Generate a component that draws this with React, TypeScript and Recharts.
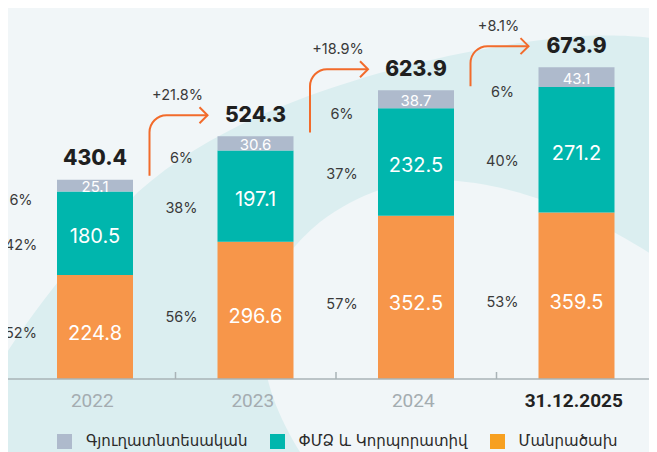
import React from 'react';
import { BarChart, Bar, XAxis, YAxis, LabelList } from 'recharts';

const years = ['2022', '2023', '2024', '31.12.2025'];
const retail = [224.8, 296.6, 352.5, 359.5];
const corp = [180.5, 197.1, 232.5, 271.2];
const agri = [25.1, 30.6, 38.7, 43.1];
const totals = [430.4, 524.3, 623.9, 673.9];
const retailPct = ['52%', '56%', '57%', '53%'];
const corpPct = ['42%', '38%', '37%', '40%'];
const agriPct = ['6%', '6%', '6%', '6%'];
const growth = ['', '+21.8%', '+18.9%', '+8.1%'];

const seriesNames = {
  agri: 'Գյուղատնտեսական',
  corp: 'ՓՄՁ և Կորպորատիվ',
  retail: 'Մանրածախ',
};
const legendOrder = ['agri', 'corp', 'retail'];

const data = years.map((y, i) => ({
  year: y,
  retail: retail[i],
  corp: corp[i],
  agri: agri[i],
}));

const COLORS = {
  agri: '#aebacc',
  corp: '#00b6ad',
  retail: '#f7964a',
};
const LEGEND_COLORS = {
  agri: '#aebacc',
  corp: '#00b6ad',
  retail: '#f7a021',
};

const FONT = 'Inter, "Open Sans", sans-serif';
const ARROW = '#f26b2b';

function box(p: any) {
  const vb = p.viewBox || {};
  return {
    x: Number(p.x ?? vb.x),
    y: Number(p.y ?? vb.y),
    w: Number(p.width ?? vb.width),
    h: Number(p.height ?? vb.height),
  };
}

function makeSegmentLabel(pcts: string[], valueSize: number, valueDy: number, pctDy: number) {
  return (p: any) => {
    const { x, y, w, h } = box(p);
    const i = p.index;
    const v = Number(p.value);
    return (
      <g>
        <text
          x={x + w / 2}
          y={y + h / 2 + valueDy}
          textAnchor="middle"
          dominantBaseline="central"
          fill="#ffffff"
          fontSize={valueSize}
          fontFamily={FONT}
        >
          {v.toFixed(1)}
        </text>
        <text
          x={x - 36}
          y={y + h / 2 + pctDy}
          textAnchor="middle"
          dominantBaseline="central"
          fill="#3a3a3a"
          fontSize={14.5}
          fontFamily={FONT}
        >
          {pcts[i]}
        </text>
      </g>
    );
  };
}

const retailLabel = makeSegmentLabel(retailPct, 20, 6, 6);
const corpLabel = makeSegmentLabel(corpPct, 20, 3, 11);

const agriLabel = (p: any) => {
  const { x, y, w, h } = box(p);
  const i = p.index;
  const v = Number(p.value);
  const pxPerUnit = h / agri[i];
  let arrow = null;
  if (i > 0) {
    const prevTop = y + (totals[i] - totals[i - 1]) * pxPerUnit;
    const vx = x - 68;
    const y0 = prevTop - 4;
    const hy = y - 21;
    const ex = x - 10;
    const r = 17;
    const d = `M ${vx} ${y0} L ${vx} ${hy + r} C ${vx} ${hy + r * 0.45} ${vx + r * 0.45} ${hy} ${vx + r} ${hy} L ${ex} ${hy}`;
    const head = `M ${ex - 8} ${hy - 8} L ${ex} ${hy} L ${ex - 8} ${hy + 8}`;
    arrow = (
      <g>
        <path d={d} fill="none" stroke={ARROW} strokeWidth={2} />
        <path d={head} fill="none" stroke={ARROW} strokeWidth={2} />
        <text
          x={(vx + ex) / 2 - 1}
          y={hy - 21}
          textAnchor="middle"
          dominantBaseline="central"
          fill="#3a3a3a"
          fontSize={14.5}
          fontFamily={FONT}
        >
          {growth[i]}
        </text>
      </g>
    );
  }
  return (
    <g>
      <text
        x={x + w / 2}
        y={y + h / 2 + 1}
        textAnchor="middle"
        dominantBaseline="central"
        fill="#ffffff"
        fontSize={15}
        fontFamily={FONT}
      >
        {v.toFixed(1)}
      </text>
      <text
        x={x - 36}
        y={y + h / 2 + 14}
        textAnchor="middle"
        dominantBaseline="central"
        fill="#3a3a3a"
        fontSize={14.5}
        fontFamily={FONT}
      >
        {agriPct[i]}
      </text>
      <text
        x={x + w / 2}
        y={y - 22}
        textAnchor="middle"
        dominantBaseline="central"
        fill="#1f1f1f"
        fontSize={21}
        fontWeight={800}
        fontFamily={FONT}
      >
        {totals[i].toFixed(1)}
      </text>
      {arrow}
    </g>
  );
};

const AxisTick = (p: any) => {
  const { x, y, payload, index } = p;
  const last = index === years.length - 1;
  const half = payload && typeof payload.offset === 'number' && payload.offset > 0 ? payload.offset : 80;
  return (
    <g>
      {index > 0 && (
        <line x1={x - half} x2={x - half} y1={y} y2={y - 7} stroke="#a9b3b7" strokeWidth={1.5} />
      )}
      <text
        x={x - 3}
        y={y + 21}
        textAnchor="middle"
        dominantBaseline="central"
        fill={last ? '#222222' : '#a4acb0'}
        fontSize={19}
        fontWeight={last ? 700 : 400}
        fontFamily="Roboto, sans-serif"
      >
        {payload.value}
      </text>
    </g>
  );
};

export default function App() {
  return (
    <div style={{ position: 'relative', width: 657, height: 452, margin: '-8px 0 0 -8px', overflow: 'hidden', background: '#f1f6f8' }}>
      <svg width={657} height={452} style={{ position: 'absolute', left: 0, top: 0 }}>
        <rect x={0} y={0} width={657} height={452} fill="#f1f6f8" />
        <path
          d="M 0 363 C 40 300 90 240 138 192 C 185 150 245 120 298 100 C 360 76 460 48 567 37 C 610 34 640 36 657 39 L 657 452 L 0 452 Z"
          fill="#dbeef0"
        />
        <path
          d="M 300 452 C 280 420 262 380 262 335 C 262 290 280 255 320 222 C 360 192 400 180 440 180 C 520 182 600 220 657 258 L 657 452 Z"
          fill="#f1f6f8"
        />
      </svg>
      <div style={{ position: 'absolute', left: 0, top: 0 }}>
        <BarChart width={657} height={452} data={data} margin={{ top: 55, right: 0, left: 0, bottom: 33 }}>
          <XAxis
            dataKey="year"
            height={40}
            padding={{ left: 15, right: 0 }}
            axisLine={{ stroke: '#a9b3b7', strokeWidth: 1.5 }}
            tickLine={false}
            tickSize={0}
            tickMargin={0}
            interval={0}
            tick={<AxisTick />}
          />
          <YAxis hide domain={[0, 700]} />
          <Bar dataKey="retail" stackId="a" fill={COLORS.retail} barSize={76} isAnimationActive={false}>
            <LabelList dataKey="retail" content={retailLabel} />
          </Bar>
          <Bar dataKey="corp" stackId="a" fill={COLORS.corp} barSize={76} isAnimationActive={false}>
            <LabelList dataKey="corp" content={corpLabel} />
          </Bar>
          <Bar dataKey="agri" stackId="a" fill={COLORS.agri} barSize={76} isAnimationActive={false}>
            <LabelList dataKey="agri" content={agriLabel} />
          </Bar>
        </BarChart>
      </div>
      <div
        style={{
          position: 'absolute',
          left: 57,
          top: 434,
          display: 'flex',
          alignItems: 'center',
          gap: 22,
          fontFamily: '"DejaVu Sans", "Noto Sans", sans-serif',
          fontSize: 15,
          color: '#2a2a2a',
          whiteSpace: 'nowrap',
        }}
      >
        {legendOrder.map((k) => (
          <div key={k} style={{ display: 'flex', alignItems: 'center' }}>
            <span style={{ display: 'inline-block', width: 15, height: 15, background: (LEGEND_COLORS as any)[k], marginRight: 14 }} />
            <span style={{ lineHeight: '15px' }}>{(seriesNames as any)[k]}</span>
          </div>
        ))}
      </div>
    </div>
  );
}
